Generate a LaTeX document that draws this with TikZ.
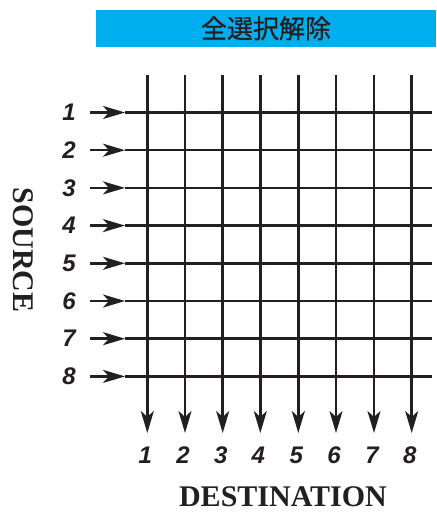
\documentclass[tikz,border=0pt]{standalone}
\usepackage{fontspec}
\setmainfont{Liberation Serif}
\newfontfamily\digitfont{Liberation Sans}
\newfontfamily\cjk[FakeBold=0.6]{Noto Sans CJK JP}
\usepackage{tikz}
\usetikzlibrary{arrows.meta}

\begin{document}
\begin{tikzpicture}[x=1pt, y=-1pt]
    % Definitions
    \definecolor{bar-blue}{RGB}{0, 174, 239}
    \definecolor{ink-black}{RGB}{35, 31, 32}

    \tikzset{
        wire/.style={line width=2.5pt, draw=ink-black},
        tip/.style={-{Stealth[length=22pt, width=13pt, inset=6pt]}},
        numlabel/.style={text=ink-black, inner sep=0,
            font=\digitfont\bfseries\itshape\fontsize{24}{24}\selectfont},
        axislabel/.style={text=ink-black, inner sep=0,
            font=\bfseries\fontsize{30}{30}\selectfont},
        titlebar/.style={fill=bar-blue, text=ink-black, inner sep=0,
            font=\cjk\fontsize{26}{26}\selectfont}
    }

    \newcommand{\drawsource}[3]{
        \node[numlabel] (s#1) at (69,#2) {#3};
        \coordinate (s#1in) at (90,#2);
        \coordinate (s#1tip) at (125,#2);
        \coordinate (s#1out) at (432,#2);
        \draw[wire, tip] (s#1in) -- (s#1tip);
        \draw[wire] (s#1tip) -- (s#1out);
    }

    \newcommand{\drawdest}[3]{
        \coordinate (d#1top) at (#2,75);
        \coordinate (d#1tip) at (#2,433);
        \draw[wire, tip] (d#1top) -- (d#1tip);
        \node[numlabel] (d#1) at (#2-2,455.5) {#3};
    }

    \useasboundingbox (0,0) rectangle (436,513);

    % Title bar
    \node[titlebar, minimum width=340, minimum height=36.5]
        (title) at (266,28.3) {全選択解除};

    % Destinations
    \drawdest{1}{147.3}{1}
    \drawdest{2}{185}{2}
    \drawdest{3}{222.7}{3}
    \drawdest{4}{260.3}{4}
    \drawdest{5}{298.3}{5}
    \drawdest{6}{336}{6}
    \drawdest{7}{374}{7}
    \drawdest{8}{411.7}{8}

    % Sources
    \drawsource{1}{112.5}{1}
    \drawsource{2}{150.2}{2}
    \drawsource{3}{187.9}{3}
    \drawsource{4}{225.6}{4}
    \drawsource{5}{263.3}{5}
    \drawsource{6}{301}{6}
    \drawsource{7}{338.7}{7}
    \drawsource{8}{376.4}{8}

    % Axis names
    \node[axislabel, rotate=-90] (srcname) at (23,250) {SOURCE};
    \node[axislabel] (dstname) at (283,497) {DESTINATION};
\end{tikzpicture}
\end{document}
